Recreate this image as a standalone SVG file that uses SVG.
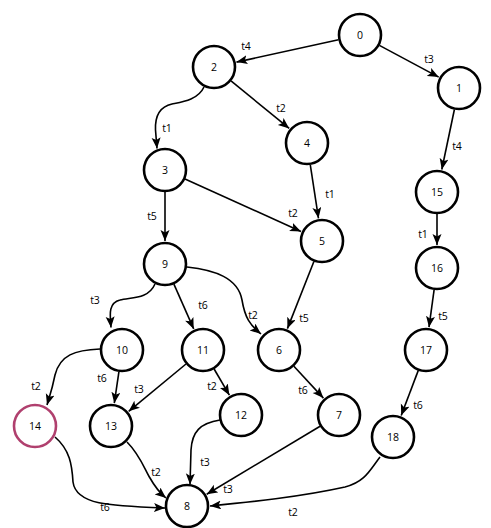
<svg xmlns="http://www.w3.org/2000/svg" width="491" height="528" viewBox="0 0 491 528">
<style>
.n circle{fill:#fff;stroke:#000;stroke-width:2.6}
.n text,.l text{font-family:"Open Sans","Liberation Sans",sans-serif;font-size:10.5px;fill:#000;text-anchor:middle;dominant-baseline:central}
.e path{fill:none;stroke:#000;stroke-width:1.6;marker-end:url(#arr)}
#n14 circle{stroke:#b0406e}
</style>
<defs>
<marker id="arr" markerUnits="userSpaceOnUse" markerWidth="12" markerHeight="10" refX="11" refY="4.5" orient="auto">
<path d="M0,0 L11,4.5 L0,9 L2.5,4.5 z" fill="#000"/>
</marker>
</defs>
<rect width="491" height="528" fill="#fff"/>
<g id="edges" class="e">
<path d="M338.5,39.7 L236.5,62.1"/>
<path d="M379.4,45.4 L438.7,77.1"/>
<path d="M231,80.9 L289.2,128.4"/>
<path d="M454.4,109.5 L441.8,169.5"/>
<path d="M204,87 C198,100 182,102 172,104 C158,107 155,118 155.5,130 L157,148.5"/>
<path d="M165,192 L165,241"/>
<path d="M185,179 L301,231.5"/>
<path d="M310.3,164.8 L318.5,218.3"/>
<path d="M437,214 L437,245"/>
<path d="M434.1,289.8 L429,327.2"/>
<path d="M155,284 C148,300 130,297 120,300 C108,303 110,315 111,327.5"/>
<path d="M173.9,284.1 L193.7,328.9"/>
<path d="M187,267 C215,270 238,278 242,300 C245,318 250,325 261,334"/>
<path d="M313.9,261.5 L287.4,328.6"/>
<path d="M100,349 C75,350 60,355 55,375 C52,390 50,395 47,405"/>
<path d="M118.9,371.8 L114.3,403.2"/>
<path d="M186,364 L128.7,411.3"/>
<path d="M214.1,369 L229.4,395.2"/>
<path d="M293.9,366.2 L323.4,398.1"/>
<path d="M418.2,370.6 L401.2,415.5"/>
<path d="M220,420 C200,423 192,432 191,450 L190,484.5"/>
<path d="M127,442 C140,455 145,470 150,478 C155,487 160,493 166,498"/>
<path d="M55,437 C70,450 72,465 73,482 C76,505 110,506 165,508"/>
<path d="M320.1,426.3 L206.7,494.2"/>
<path d="M380,457 C370,470 365,482 345,487 C300,497 250,502 210,506"/>
</g>
<g id="labels" class="l">
<text x="246" y="46">t4</text>
<text x="429" y="59">t3</text>
<text x="281" y="108">t2</text>
<text x="457" y="146">t4</text>
<text x="167" y="128">t1</text>
<text x="152" y="216">t5</text>
<text x="293" y="213">t2</text>
<text x="330" y="194">t1</text>
<text x="423" y="234">t1</text>
<text x="443" y="316">t5</text>
<text x="95" y="300">t3</text>
<text x="203" y="305">t6</text>
<text x="253" y="315">t2</text>
<text x="304" y="318">t5</text>
<text x="36" y="386">t2</text>
<text x="102" y="378">t6</text>
<text x="139" y="389">t3</text>
<text x="212" y="386">t2</text>
<text x="303" y="390">t6</text>
<text x="418" y="405">t6</text>
<text x="205" y="462">t3</text>
<text x="156" y="472">t2</text>
<text x="228" y="489">t3</text>
<text x="105" y="507">t6</text>
<text x="293" y="512">t2</text>
</g>
<g id="n0" class="n"><circle cx="360" cy="35" r="21"/><text x="360" y="35">0</text></g>
<g id="n1" class="n"><circle cx="459" cy="88" r="21"/><text x="459" y="88">1</text></g>
<g id="n2" class="n"><circle cx="214" cy="67" r="21"/><text x="214" y="67">2</text></g>
<g id="n3" class="n"><circle cx="165" cy="170" r="21"/><text x="165" y="170">3</text></g>
<g id="n4" class="n"><circle cx="307" cy="143" r="21"/><text x="307" y="143">4</text></g>
<g id="n5" class="n"><circle cx="322" cy="241" r="21"/><text x="322" y="241">5</text></g>
<g id="n6" class="n"><circle cx="279" cy="350" r="21"/><text x="279" y="350">6</text></g>
<g id="n7" class="n"><circle cx="339" cy="415" r="21"/><text x="339" y="415">7</text></g>
<g id="n8" class="n"><circle cx="187" cy="506" r="21"/><text x="187" y="506">8</text></g>
<g id="n9" class="n"><circle cx="165" cy="264" r="21"/><text x="165" y="264">9</text></g>
<g id="n10" class="n"><circle cx="122" cy="350" r="21"/><text x="122" y="350">10</text></g>
<g id="n11" class="n"><circle cx="203" cy="350" r="21"/><text x="203" y="350">11</text></g>
<g id="n12" class="n"><circle cx="241" cy="415" r="21"/><text x="241" y="415">12</text></g>
<g id="n13" class="n"><circle cx="111" cy="426" r="21"/><text x="111" y="426">13</text></g>
<g id="n14" class="n"><circle cx="35" cy="426" r="21"/><text x="35" y="426">14</text></g>
<g id="n15" class="n"><circle cx="437" cy="192" r="21"/><text x="437" y="192">15</text></g>
<g id="n16" class="n"><circle cx="437" cy="268" r="21"/><text x="437" y="268">16</text></g>
<g id="n17" class="n"><circle cx="426" cy="350" r="21"/><text x="426" y="350">17</text></g>
<g id="n18" class="n"><circle cx="393" cy="437" r="21"/><text x="393" y="437">18</text></g>
</svg>
